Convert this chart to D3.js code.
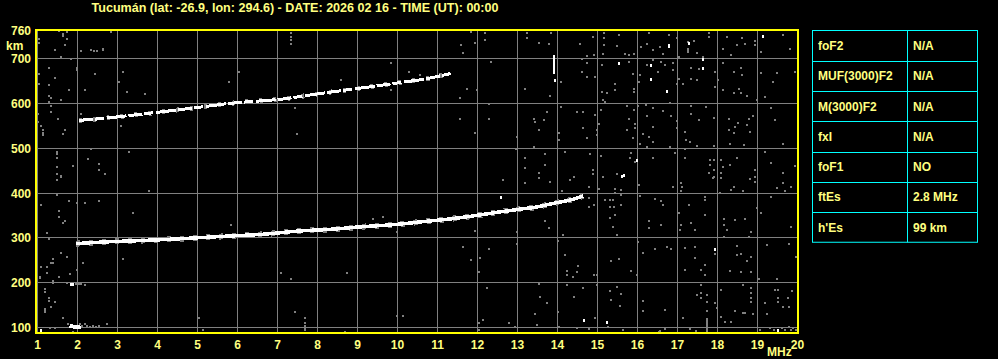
<!DOCTYPE html>
<html><head><meta charset="utf-8">
<script src="https://cdn.jsdelivr.net/npm/d3@7"></script>
<style>html,body{margin:0;padding:0;background:#000;overflow:hidden}</style>
</head><body>
<svg id="c" width="998" height="359"></svg>
<script>
// ---------------- DATA ----------------
const title = "Tucumán (lat: -26.9, lon: 294.6) - DATE: 2026 02 16 - TIME (UT): 00:00";
const freqTicks = [1,2,3,4,5,6,7,8,9,10,11,12,13,14,15,16,17,18,19,20];
const heightTicks = [100,200,300,400,500,600,700];
const heightTop = 760;
const freqUnit = "MHz";
const heightUnit = "km";
const tableLabels = ["foF2","MUF(3000)F2","M(3000)F2","fxI","foF1","ftEs","h'Es"];
const tableValues = ["N/A","N/A","N/A","N/A","NO","2.8 MHz","99 km"];

// first-hop F trace [MHz, km]
const traceF1 = [[1.97,287],[2.3,289],[3.0,292],[3.32,293],[4.14,296],[4.98,300],[5.8,304],[6.65,308],[7.5,315],[8.32,319],[9.15,325],[9.98,330],[10.74,337],[11.3,342],[11.82,348],[12.5,357],[13.07,364],[13.5,369],[13.9,377],[14.3,384],[14.64,393]];
// second-hop trace
const traceF2 = [[2.03,562],[2.6,566],[3.32,573],[4.0,580],[4.57,586],[5.2,593],[5.82,600],[6.5,605],[7.07,609],[7.7,617],[8.32,625],[9.0,633],[9.57,640],[10.2,648],[10.74,655],[11.05,661],[11.36,667]];
// sporadic E
const traceEs = [[1.8,104],[1.9,102],[2.0,100],[2.08,101]];
// isolated bright echoes
const echoes = [[1.09,94],[1.83,196],[1.88,196],[13.9,671],[13.9,676],[13.9,681],[13.9,686],[13.9,691],[13.9,696],[13.9,701],[13.9,706],[13.94,653],[15.54,691],[16.34,685],[16.34,655],[16.78,727],[16.78,731],[16.74,627],[17.29,735],[17.64,700],[17.64,679],[19.13,750],[15.65,440],[15.62,437],[15.98,473],[12.59,391],[17.94,276],[14.67,116],[15.23,112],[19.52,94]];
// background noise dots
const noise = [
[1.03,743],[1.03,735],[1.54,762],[1.63,754],[1.63,750],[1.73,759],[1.44,720],[1.69,730],[1.73,743],[1.59,704],[1.84,698],[2.08,716],[2.34,720],[2.4,717],[2.49,717],[2.63,722],[2.63,719],[2.84,759],[0.99,673],[1.04,666],[1.29,679],[1.98,678],[1.98,675],[2.44,665],[3.13,670],[1.44,657],[1.04,644],[1.29,640],[1.79,629],[2.19,629],[3.04,648],[3.23,626],[3.69,620],[0.99,607],[1.29,616],[1.33,611],[1.29,603],[1.58,607],[1.33,594],[1.33,581],[1.0,577],[1.0,559],[1.08,549],[1.13,540],[1.13,529],[1.13,533],[1.5,564],[1.69,540],[1.63,531],[2.08,576],[3.08,549],
[7.33,756],[7.33,748],[7.33,741],[7.33,733],[6.03,670],[5.79,648],[9.83,689],[10.29,670],[10.57,663],[8.58,652],[9.83,629],[7.44,590],[7.48,531],[3.28,492],[2.33,499],[2.25,475],[1.48,492],[1.48,487],[1.48,477],[1.48,457],[1.48,442],[1.88,460],[2.54,464],[2.54,452],[2.69,442],[1.58,436],
[11.83,759],[12.19,756],[12.19,741],[11.94,735],[11.58,730],[11.63,713],[13.23,756],[13.23,745],[13.53,735],[13.79,732],[13.83,757],[14.88,747],[15.15,756],[15.15,745],[15.17,730],[15.54,752],[15.48,727],[16.28,757],[16.78,752],[16.98,745],[17.27,737],[17.42,739],[17.78,757],[17.78,747],[18.23,748],[18.61,745],[18.69,732],[18.94,739],[18.94,730],[19.65,752],[19.8,722],[19.08,715],[18.48,730],[18.13,722],[18.34,707],[17.27,722],[17.27,718],[17.27,714],[17.48,713],[17.63,704],[17.03,704],[16.63,711],[16.55,726],[16.4,719],[16.23,733],[16.08,726],[15.9,711],[15.79,707],[15.69,711],[15.13,711],[14.57,733],[14.61,700],[14.73,705],[14.9,707],[14.73,689],[14.61,670],[14.73,659],[14.94,659],[15.11,685],[15.44,644],[15.23,622],[15.11,626],[15.13,607],[15.19,603],[15.43,629],[15.78,693],[15.88,666],[16.07,663],[16.03,648],[15.9,633],[15.9,626],[16.23,685],[16.4,696],[16.52,670],[16.58,693],[16.69,685],[16.9,689],[16.88,674],[17.03,655],[17.13,644],[16.98,644],[17.33,655],[17.48,652],[17.33,678],[17.53,676],[17.94,670],[18.01,653],[17.94,637],[18.13,689],[18.13,629],[18.4,670],[18.58,678],[18.61,663],[18.53,633],[18.4,622],[18.58,622],[18.73,616],[19.19,615],[19.08,667],[19.48,668],[19.38,648],[19.94,670],[18.98,607],
[11.55,564],[11.94,533],[11.73,633],[12.33,693],[11.98,629],[11.55,611],[12.28,598],[12.29,564],[13.19,633],[13.8,616],[14.08,648],[12.98,525],[12.97,499],[13.19,477],[13.19,455],[13.4,566],[13.44,559],[13.65,563],[13.54,540],[13.73,581],[13.4,503],[13.69,488],[13.69,462],[13.53,444],[14.03,533],[14.04,518],[14.09,591],[14.48,581],[14.63,581],[14.63,544],[14.94,574],[14.98,540],[14.98,529],[14.73,522],[15.04,554],[15.08,585],[14.19,492],[14.42,436],[14.8,487],[14.88,451],[14.88,442],[15.09,482],[15.13,436],[15.48,442],[15.73,594],[15.78,566],[15.73,540],[15.88,522],[15.94,555],[15.94,544],[15.9,585],[16.0,594],[16.07,510],[16.22,596],[16.23,571],[16.4,589],[16.38,548],[16.13,531],[16.28,524],[16.38,514],[16.23,503],[15.83,490],[15.8,477],[15.93,470],[16.4,477],[16.63,583],[16.8,601],[16.83,571],[16.98,561],[16.98,544],[17.19,536],[17.22,518],[17.19,499],[17.33,594],[17.33,577],[17.53,563],[17.72,592],[17.9,568],[17.3,514],[16.8,503],[16.94,490],[17.19,478],[17.48,505],[17.9,505],[17.8,473],[17.9,473],[17.8,462],[17.9,451],[17.78,445],[17.9,436],[18.09,473],[18.09,444],[18.15,458],[18.32,462],[18.28,564],[18.28,540],[18.4,533],[18.43,548],[18.51,557],[18.78,566],[18.73,551],[18.8,536],[18.88,571],[18.32,510],[18.67,507],[18.48,479],[18.94,451],[18.94,436],[19.19,492],[19.33,466],[19.44,563],[19.63,509],[19.33,589],[19.94,460],[19.63,445],
[12.63,429],[13.19,423],[13.53,434],[13.82,425],[14.3,429],[14.11,404],[14.78,414],[15.04,409],[15.44,410],[15.44,399],[15.59,406],[15.59,395],[15.19,384],[15.3,384],[15.38,384],[15.3,369],[15.4,369],[15.58,373],[15.44,352],[15.3,345],[15.38,325],[15.48,306],[14.78,388],[14.78,369],[14.9,373],[16.03,417],[16.05,394],[16.44,386],[16.58,382],[16.63,373],[17.08,423],[17.08,404],[17.11,414],[16.88,414],[17.69,391],[17.69,384],[17.88,434],[18.09,434],[18.05,399],[18.33,406],[18.4,414],[18.65,404],[18.8,431],[18.94,425],[18.98,367],[19.33,391],[19.48,411],[19.65,423],[19.83,414],[19.69,404],[16.28,337],[16.28,322],[16.58,328],[17.08,328],[17.07,317],[17.33,333],[17.44,317],[17.03,356],[17.28,373],[17.69,351],[18.17,343],[18.17,328],[18.23,317],[18.17,302],[18.44,339],[18.69,343],[18.83,313],[18.78,302],[19.08,356],[19.83,325],[16.0,290],[16.13,267],[16.44,276],[16.83,275],[17.19,278],[17.44,280],[17.44,254],[17.19,228],[17.58,228],[17.69,217],[17.69,240],[17.94,263],[18.3,226],[18.48,282],[18.48,261],[18.58,263],[18.58,224],[18.83,258],[18.83,224],[18.73,248],[19.23,284],[19.03,208],[19.48,208],[19.78,287],[19.97,258],[16.73,280],[15.84,226],[15.98,217],[15.53,252],[15.33,248],[14.9,218],[14.98,217],[14.98,194],[14.52,238],[14.48,224],[14.38,213],[14.23,226],[14.23,217],[14.19,261],[14.0,293],[14.13,307],[14.01,135],[13.79,323],[13.69,337],[12.98,313],[12.98,287],[12.28,275],[12.05,254],[12.03,224],[11.83,250],[11.63,280],[11.94,315],[12.23,188],[12.13,116],[12.03,109],[12.03,94],[12.78,109],[12.93,101],[13.48,105],[13.43,131],[13.73,154],[13.57,168],[13.53,196],[14.23,194],[14.63,187],[14.42,168],[14.03,101],[14.48,98],[14.78,96],[14.93,122],[15.25,101],[15.33,161],[15.3,181],[15.58,174],[15.55,148],[15.48,191],[15.63,94],[16.13,136],[16.13,159],[16.55,92],[16.69,96],[16.69,139],[17.13,122],[17.3,96],[17.47,92],[17.59,194],[17.48,172],[17.59,176],[17.59,166],[17.73,172],[17.73,157],[17.73,136],[17.73,88],[17.73,92],[17.73,96],[17.73,100],[17.73,104],[17.73,108],[17.73,112],[17.73,116],[17.73,120],[17.94,154],[17.98,144],[18.09,183],[18.09,124],[18.19,113],[18.33,113],[18.44,136],[18.65,133],[18.68,133],[18.63,194],[18.83,187],[18.83,176],[18.83,166],[18.83,157],[18.88,129],[19.19,154],[19.23,131],[19.44,183],[19.52,183],[19.52,166],[19.52,156],[19.63,146],[19.75,166],[19.86,181],[19.78,146],[19.06,94],[19.3,98],[19.4,94],[19.5,90],[19.6,98],[19.69,94],[19.78,101],[19.83,94],[19.9,98],[19.97,94],[16.53,90],
[1.48,429],[1.58,438],[3.78,404],[1.48,395],[1.79,382],[1.98,378],[2.19,378],[2.54,383],[1.09,373],[1.54,360],[1.53,347],[1.69,337],[1.63,333],[0.98,332],[1.23,311],[3.38,356],[5.83,328],[9.38,343],[9.63,347],[9.98,312],[0.98,296],[1.28,298],[1.58,267],[1.73,258],[1.38,252],[1.38,243],[1.33,243],[1.23,235],[1.09,235],[2.13,243],[1.98,228],[1.8,220],[1.23,222],[1.05,213],[1.05,210],[1.54,213],[1.73,200],[1.38,203],[1.38,200],[3.13,252],[2.19,194],[2.03,196],[1.95,196],[2.08,196],[0.98,185],[1.19,185],[1.19,180],[1.29,165],[1.29,160],[1.44,157],[1.34,146],[1.19,142],[1.19,138],[1.19,135],[0.98,144],[0.98,131],[1.63,122],[0.98,114],[7.08,222],[7.33,208],[8.73,222],[7.44,135],[7.69,122],[7.69,109],[7.69,104],[7.69,99],[7.69,94],[5.04,122],[5.13,94],[8.69,90],[9.98,126],[10.13,126],[2.18,107],[2.23,104],[2.38,104],[2.46,101],[2.54,104],[2.73,107],[1.3,98],[1.44,98],[1.88,90],[1.75,107],[2.05,107],[2.12,104],[2.3,101]
];

// ---------------- LAYOUT ----------------
const W = 998, H = 359;
const frame = {x0:36, x1:798, y0:30, y1:333};
const svg = d3.select("#c").attr("width",W).attr("height",H)
  .style("background","#000").style("font-family","'Liberation Sans', Arial, sans-serif");
svg.append("rect").attr("width",W).attr("height",H).attr("fill","#000");

const x = d3.scaleLinear().domain([1,20]).range([37.5,797.5]);
const y = d3.scaleLinear().domain([100,700]).range([327.5,58.5]);
const labelColor = "#ffff80";
const grid = "#808080";

// title
svg.append("text").attr("x",91.5).attr("y",11.5).attr("fill",labelColor)
  .attr("font-size",12).attr("font-weight","bold")
  .attr("textLength",407).attr("lengthAdjust","spacingAndGlyphs").text(title);

// plot clip
svg.append("clipPath").attr("id","clip").append("rect")
  .attr("x",frame.x0).attr("y",frame.y0).attr("width",frame.x1-frame.x0).attr("height",frame.y1-frame.y0);
const plot = svg.append("g").attr("clip-path","url(#clip)");

// grid
const crisp = v => Math.floor(v)+0.5;
plot.selectAll("line.v").data(freqTicks).join("line").attr("class","v")
  .attr("x1",d=>crisp(x(d))).attr("x2",d=>crisp(x(d)))
  .attr("y1",frame.y0).attr("y2",frame.y1).attr("stroke",grid).attr("stroke-width",1)
  .attr("shape-rendering","crispEdges");
plot.selectAll("line.h").data(heightTicks).join("line").attr("class","h")
  .attr("y1",d=>crisp(y(d))).attr("y2",d=>crisp(y(d)))
  .attr("x1",frame.x0).attr("x2",frame.x1).attr("stroke",grid).attr("stroke-width",1)
  .attr("shape-rendering","crispEdges");

// noise
plot.selectAll("rect.n").data(noise).join("rect").attr("class","n")
  .attr("x",d=>Math.round(x(d[0]))-1).attr("y",d=>Math.round(y(d[1]))-1)
  .attr("width",2).attr("height",2).attr("fill","#808080").attr("shape-rendering","crispEdges");

// traces
const line = d3.line().x(d=>x(d[0])).y(d=>y(d[1])).curve(d3.curveMonotoneX);
plot.append("path").datum(traceF1).attr("d",line).attr("fill","none")
  .attr("stroke","#808080").attr("stroke-width",6).attr("stroke-dasharray","4 9")
  .attr("shape-rendering","crispEdges");
plot.append("path").datum(traceF1).attr("d",line).attr("fill","none")
  .attr("stroke","#fff").attr("stroke-width",3.5).attr("shape-rendering","crispEdges");
plot.append("path").datum(traceF2).attr("d",line).attr("fill","none")
  .attr("stroke","#808080").attr("stroke-width",5).attr("stroke-dasharray","3 11")
  .attr("shape-rendering","crispEdges");
plot.append("path").datum(traceF2).attr("d",line).attr("fill","none")
  .attr("stroke","#fff").attr("stroke-width",3).attr("stroke-dasharray","14 2 9 3 20 2")
  .attr("shape-rendering","crispEdges");
plot.append("path").datum(traceEs).attr("d",line).attr("fill","none")
  .attr("stroke","#fff").attr("stroke-width",4).attr("shape-rendering","crispEdges");
plot.selectAll("rect.e").data(echoes).join("rect").attr("class","e")
  .attr("x",d=>Math.round(x(d[0]))-1).attr("y",d=>Math.round(y(d[1]))-1)
  .attr("width",2).attr("height",3).attr("fill","#fff").attr("shape-rendering","crispEdges");

// frame
svg.append("rect").attr("x",frame.x0).attr("y",frame.y0)
  .attr("width",frame.x1-frame.x0).attr("height",frame.y1-frame.y0)
  .attr("fill","none").attr("stroke","#ffff00").attr("stroke-width",2)
  .attr("shape-rendering","crispEdges");

// x tick labels
svg.selectAll("text.xt").data(freqTicks).join("text").attr("class","xt")
  .attr("x",d=>x(d)).attr("y",349).attr("text-anchor","middle")
  .attr("fill",labelColor).attr("font-size",12).attr("font-weight","bold").text(d=>d);
svg.append("text").attr("x",767).attr("y",356).attr("fill",labelColor)
  .attr("font-size",12).attr("font-weight","bold").text(freqUnit);

// y tick labels
svg.selectAll("text.yt").data(heightTicks).join("text").attr("class","yt")
  .attr("x",31).attr("y",d=>y(d)+4.5).attr("text-anchor","end")
  .attr("fill",labelColor).attr("font-size",12).attr("font-weight","bold").text(d=>d);
svg.append("text").attr("x",31).attr("y",35).attr("text-anchor","end")
  .attr("fill",labelColor).attr("font-size",12).attr("font-weight","bold").text(heightTop);
svg.append("text").attr("x",6).attr("y",49.5)
  .attr("fill",labelColor).attr("font-size",12).attr("font-weight","bold").text(heightUnit);

// table
const tx0 = 812.5, tx1 = 907.5, tx2 = 977.5, ty0 = 30.5, rowH = 30.25;
const tbl = svg.append("g");
tbl.append("rect").attr("x",tx0).attr("y",ty0).attr("width",tx2-tx0)
  .attr("height",rowH*tableLabels.length).attr("fill","none").attr("stroke","#00ffff");
tbl.append("line").attr("x1",tx1).attr("x2",tx1).attr("y1",ty0).attr("y2",ty0+rowH*tableLabels.length)
  .attr("stroke","#00ffff");
tbl.selectAll("line.r").data(tableLabels.slice(1)).join("line").attr("class","r")
  .attr("x1",tx0).attr("x2",tx2)
  .attr("y1",(d,i)=>Math.round(ty0+rowH*(i+1))+0.5).attr("y2",(d,i)=>Math.round(ty0+rowH*(i+1))+0.5)
  .attr("stroke","#00ffff");
tbl.selectAll("text.l").data(tableLabels).join("text").attr("class","l")
  .attr("x",tx0+5.5).attr("y",(d,i)=>ty0+rowH*i+rowH/2+4.5)
  .attr("fill",labelColor).attr("font-size",12).attr("font-weight","bold").text(d=>d);
tbl.selectAll("text.v").data(tableValues).join("text").attr("class","v")
  .attr("x",tx1+5.5).attr("y",(d,i)=>ty0+rowH*i+rowH/2+4.5)
  .attr("fill",labelColor).attr("font-size",12).attr("font-weight","bold").text(d=>d);
</script>
</body></html>
